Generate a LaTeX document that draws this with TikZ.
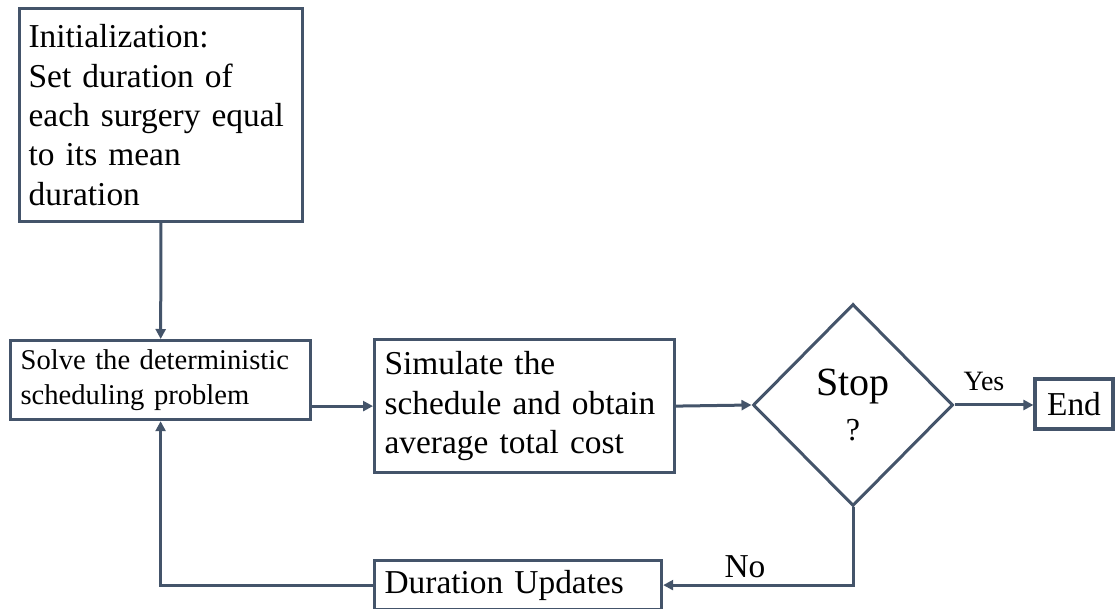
\documentclass[tikz,border=0pt]{standalone}
\usepackage{fontspec}
\setmainfont{Liberation Serif}
\usetikzlibrary{shapes.geometric,arrows.meta}
\definecolor{slate}{HTML}{44546A}
\tikzset{
  stepbox/.style={draw=slate, line width=1.6pt, rectangle, anchor=north west, align=left, inner ysep=0pt, font=\fontsize{16.7}{19.7}\selectfont},
  flow/.style={draw=slate, line width=1.5pt, -{Triangle[length=5pt,width=5pt]}},
}
\begin{document}
\begin{tikzpicture}[x=0.5pt, y=-0.5pt]
        \useasboundingbox (0,0) rectangle (1115,609);

        % Initialization step
        \node[stepbox, minimum width=141.5pt, minimum height=106.5pt, inner xsep=4.5pt, text width=132.5pt] (init) at (18,7) {Initialization:\\ Set duration of\\ each surgery equal\\ to its mean\\ duration};

        % Deterministic model and simulation
        \node[stepbox, minimum width=150pt, minimum height=39.5pt, inner xsep=5pt, text width=140pt, font=\fontsize{14.3}{17.5}\selectfont] (solve) at (9,339) {Solve the deterministic\\ scheduling problem};
        \node[stepbox, minimum width=150pt, minimum height=66.5pt, inner xsep=5pt, text width=140pt] (sim) at (373,338) {Simulate the\\ schedule and obtain\\ average total cost};

        % Update step on the way back
        \node[stepbox, minimum width=143.5pt, minimum height=24.5pt, inner xsep=5pt, text width=133.5pt] (dur) at (373,559) {Duration Updates};

        % Decision and end
        \node[draw=slate, line width=1.5pt, diamond, minimum width=100pt, minimum height=101pt, inner sep=0pt, align=center, font=\fontsize{20}{22.5}\selectfont] (stop) at (853,405) {Stop\\ {\fontsize{16}{22.5}\selectfont ?}};
        \node[stepbox, anchor=center, align=center, minimum width=39pt, minimum height=25pt, inner xsep=0pt] (end) at (1074,404) {End};

        % Labels on the branches
        \node[font=\fontsize{14}{16}\selectfont] (yes) at (984,381) {Yes};
        \node[font=\fontsize{16.7}{19.7}\selectfont] (no) at (745,567) {No};

        % Connectors
        \draw[flow] (init) -- (solve);
        \draw[flow] (solve.east |- sim.west) -- (sim.west);
        \draw[flow] (sim.east) -- (stop.west);
        \draw[flow] (stop.east) -- (stop.east -| end.west);
        \draw[flow] (stop.south) |- (dur.east);
        \draw[flow] (dur.west) -| (solve.south);
\end{tikzpicture}
\end{document}
